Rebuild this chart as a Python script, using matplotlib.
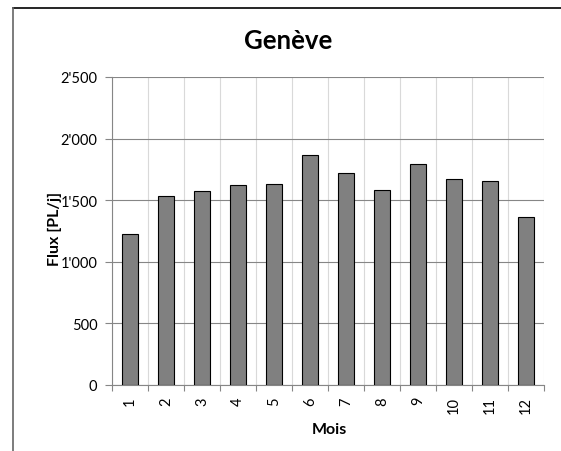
import matplotlib
matplotlib.use("Agg")
import matplotlib.pyplot as plt
from matplotlib.lines import Line2D
import numpy as np

plt.rcParams['font.family'] = ['Lato', 'DejaVu Sans']

# Data
months = ["1", "2", "3", "4", "5", "6", "7", "8", "9", "10", "11", "12"]
flux = [1226, 1532, 1575, 1623, 1629, 1864, 1723, 1585, 1796, 1672, 1653, 1364]
yticks = [0, 500, 1000, 1500, 2000, 2500]
ytick_labels = ["0", "500", "1'000", "1'500", "2'000", "2'500"]
title = "Genève"
xlabel = "Mois"
ylabel = "Flux [PL/j]"

W, H = 561, 452
fig = plt.figure(figsize=(W / 100, H / 100), dpi=100)
ax = fig.add_axes([112 / W, (H - 386) / H, (544 - 112) / W, (386 - 78) / H])

x = np.arange(len(months))
ax.bar(x, flux, width=0.42, color="#808080", edgecolor="black", linewidth=0.8, zorder=3)

ax.set_xlim(-0.5, len(months) - 0.5)
ax.set_ylim(0, 2500)
ax.set_yticks(yticks)
ax.set_yticklabels(ytick_labels, fontsize=10.5)
ax.set_xticks(x)
ax.set_xticklabels(months, rotation=90, fontsize=10.5)
ax.set_xticks(np.arange(len(months) + 1) - 0.5, minor=True)

ax.tick_params(axis="x", which="major", length=0, pad=8)
ax.tick_params(axis="x", which="minor", length=4, width=0.8, color="#868686", direction="out")
ax.tick_params(axis="y", which="major", length=5, width=0.8, color="#868686", pad=5.5)

ax.grid(axis="y", which="major", color="#868686", linewidth=0.8, zorder=0)
ax.grid(axis="x", which="minor", color="#d9d9d9", linewidth=0.8, zorder=0)
ax.set_axisbelow(True)

for s in ["top", "right"]:
    ax.spines[s].set_visible(False)
for s in ["left", "bottom"]:
    ax.spines[s].set_color("#868686")
    ax.spines[s].set_linewidth(0.8)

fig.text(288 / W, (H - 49.3) / H, title, ha="center", va="baseline",
         fontsize=18.5, fontweight="bold")
fig.text(329 / W, (H - 434) / H, xlabel, ha="center", va="baseline",
         fontsize=11.5, fontweight="bold")
fig.text(55 / W, (H - 229) / H, ylabel, ha="center", va="center", rotation=90,
         fontsize=11.5, fontweight="bold")

# outer chart frame (top and left edges visible)
fig.add_artist(Line2D([13 / W, 1.0], [(H - 9) / H, (H - 9) / H], color="black", linewidth=1.2,
                      transform=fig.transFigure))
fig.add_artist(Line2D([13 / W, 13 / W], [0, (H - 9) / H], color="#666666", linewidth=1.2,
                      transform=fig.transFigure))

fig.savefig("out.png", dpi=100)
